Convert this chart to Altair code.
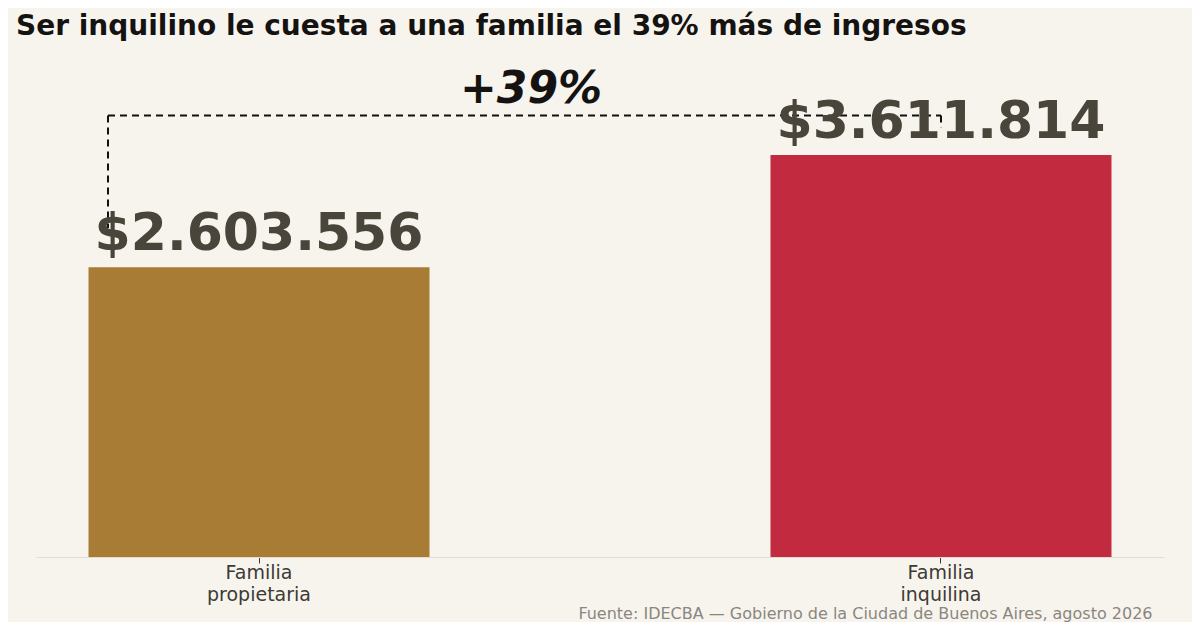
import altair as alt
import pandas as pd

categorias = ["Familia propietaria", "Familia inquilina"]
ingresos = [2603556, 3611814]
colores = ["#a97c35", "#c22a3f"]

# alturas de la línea punteada
conector_arriba = 3965000
conector_izq_abajo = 2955000
conector_der_abajo = 3855000

fondo = "#f7f4ee"
fuente = "DejaVu Sans"

df = pd.DataFrame({
    "categoria": categorias,
    "ingreso": ingresos,
    "etiqueta": ["$" + f"{v:,}".replace(",", ".") for v in ingresos],
})

x_scale = alt.Scale(domain=categorias, paddingInner=0.5, paddingOuter=0.077)
y_scale = alt.Scale(domain=[0, 4500000], nice=False)

base = alt.Chart(df).encode(
    x=alt.X(
        "categoria:N",
        sort=categorias,
        scale=x_scale,
        axis=alt.Axis(
            title="Fuente: IDECBA — Gobierno de la Ciudad de Buenos Aires, agosto 2026",
            titleFont=fuente,
            titleFontSize=16,
            titleFontWeight="normal",
            titleColor="#8a8680",
            titleAnchor="end",
            titleAlign="right",
            titleBaseline="alphabetic",
            titleX=1116,
            titleY=61,
            labelAngle=0,
            labelExpr="split(datum.label, ' ')",
            labelFont=fuente,
            labelFontSize=19,
            labelColor="#3d3a35",
            labelLineHeight=22,
            labelPadding=0,
            tickSize=6,
            tickColor="#3d3a35",
            domainColor="#e2ddd2",
        ),
    ),
)

barras = base.mark_bar().encode(
    y=alt.Y("ingreso:Q", scale=y_scale, axis=None),
    color=alt.Color("categoria:N", scale=alt.Scale(domain=categorias, range=colores), legend=None),
)

conector = pd.DataFrame({
    "x": [categorias[0], categorias[0], categorias[1]],
    "x2": [categorias[1], categorias[0], categorias[1]],
    "y": [conector_arriba, conector_arriba, conector_arriba],
    "y2": [conector_arriba, conector_izq_abajo, conector_der_abajo],
})

linea_h = alt.Chart(conector.iloc[[0]]).mark_rule(
    color="#111111", strokeWidth=2, strokeDash=[7, 5], xOffset=-151, x2Offset=0
).encode(
    x=alt.X("x:N", sort=categorias, scale=x_scale),
    x2="x2:N",
    y=alt.Y("y:Q", scale=y_scale),
)

linea_izq = alt.Chart(conector.iloc[[1]]).mark_rule(
    color="#111111", strokeWidth=2, strokeDash=[7, 5], xOffset=-151
).encode(
    x=alt.X("x:N", sort=categorias, scale=x_scale),
    y=alt.Y("y:Q", scale=y_scale),
    y2="y2:Q",
)

linea_der = alt.Chart(conector.iloc[[2]]).mark_rule(
    color="#111111", strokeWidth=2, strokeDash=[7, 5]
).encode(
    x=alt.X("x:N", sort=categorias, scale=x_scale),
    y=alt.Y("y:Q", scale=y_scale),
    y2="y2:Q",
)

valores = base.mark_text(
    font=fuente, fontSize=52, fontWeight="bold", color="#4a453a",
    baseline="alphabetic", dy=-17,
).encode(
    y=alt.Y("ingreso:Q", scale=y_scale),
    text="etiqueta:N",
)

pct = round((ingresos[1] / ingresos[0] - 1) * 100)
texto_pct = alt.Chart(pd.DataFrame({"x": [categorias[0]], "y": [conector_arriba], "t": [f"+{pct}%"]})).mark_text(
    font=fuente, fontSize=44, fontWeight="bold", fontStyle="italic", color="#151311",
    baseline="alphabetic", dy=-13, xOffset=272,
).encode(
    x=alt.X("x:N", sort=categorias, scale=x_scale),
    y=alt.Y("y:Q", scale=y_scale),
    text="t:N",
)

chart = alt.layer(barras, linea_h, linea_izq, linea_der, valores, texto_pct).properties(
    width=1128,
    height=501,
    background=fondo,
    padding={"left": 28, "top": 48, "right": 28, "bottom": 65},
    autosize=alt.AutoSizeParams(type="none"),
    title=alt.Title(
        "Ser inquilino le cuesta a una familia el 39% más de ingresos",
        anchor="start",
        frame="group",
        font=fuente,
        fontSize=28,
        fontWeight="bold",
        color="#151311",
        offset=0,
        dx=-20,
        dy=-15,
    ),
).configure_view(stroke=None)

chart.save("out.html", embed_options={"renderer": "svg", "actions": False})
